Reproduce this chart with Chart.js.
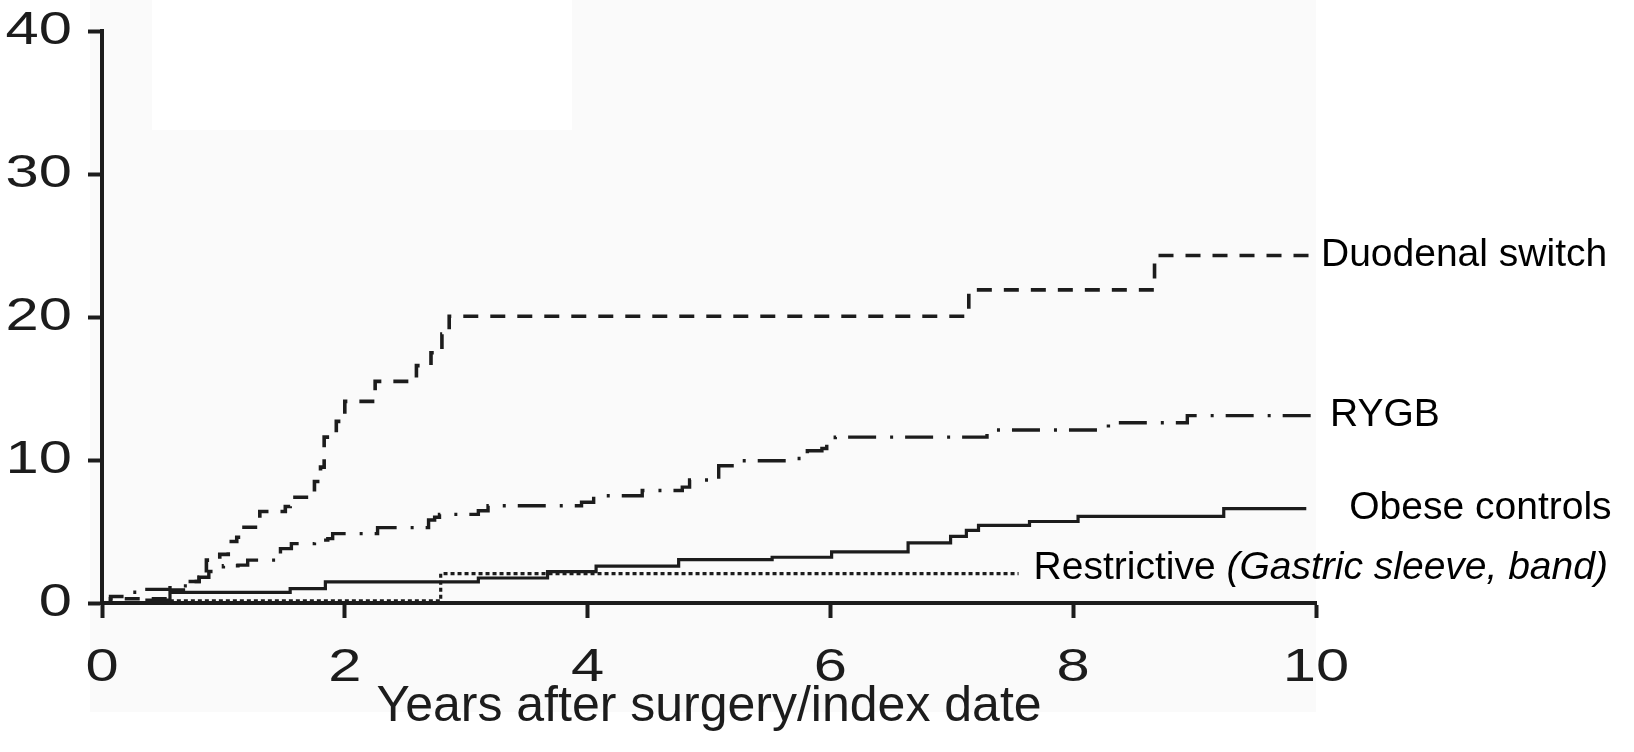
<!DOCTYPE html>
<html>
<head>
<meta charset="utf-8">
<title>Cumulative incidence after bariatric surgery</title>
<script src="https://cdn.jsdelivr.net/npm/chart.js@4.4.1/dist/chart.umd.min.js"></script>
<style>
    html, body {
        margin: 0;
        padding: 0;
        background: #ffffff;
    }
    #wrap {
        width: 1634px;
        height: 752px;
        position: relative;
    }
</style>
</head>
<body>
<div id="wrap"><canvas id="kmChart"></canvas></div>
<script>
// Years after surgery / index date, and cumulative incidence (%) at each step
const dsYears = [0, 0.07, 0.55, 0.70, 0.80, 0.86, 0.97, 1.04, 1.11, 1.14, 1.30, 1.51, 1.55, 1.75, 1.80, 1.83, 1.93, 2.00, 2.25, 2.59, 2.71, 2.80, 2.86, 7.14, 8.67, 10];
const dsValues = [0, 0.3, 0.9, 1.5, 1.8, 3.0, 3.4, 4.3, 4.6, 5.3, 6.4, 6.75, 7.4, 8.5, 9.5, 11.6, 12.7, 14.1, 15.5, 16.6, 17.5, 18.8, 20.05, 21.9, 24.3, 24.3];

const rygbYears = [0, 0.07, 0.25, 0.37, 0.56, 0.74, 0.80, 0.88, 1.00, 1.12, 1.20, 1.47, 1.56, 1.75, 1.86, 1.90, 2.27, 2.69, 2.74, 2.78, 3.10, 3.18, 3.95, 4.05, 4.45, 4.78, 4.84, 5.08, 5.19, 5.66, 5.81, 5.93, 5.97, 6.04, 7.29, 8.29, 8.94, 10];
const rygbValues = [0, 0.45, 0.75, 0.95, 1.2, 1.5, 1.8, 2.2, 2.6, 2.65, 3.0, 3.8, 4.15, 4.4, 4.5, 4.85, 5.27, 5.8, 6.0, 6.2, 6.45, 6.8, 7.05, 7.5, 7.87, 8.1, 8.6, 9.6, 9.95, 10.1, 10.65, 10.8, 11.1, 11.6, 12.1, 12.6, 13.1, 13.1];

const obeseYears = [0, 0.37, 0.56, 1.55, 1.84, 3.10, 3.67, 4.07, 4.75, 5.52, 6.01, 6.64, 6.99, 7.12, 7.22, 7.64, 8.04, 9.24, 9.92];
const obeseValues = [0, 0.2, 0.75, 1.0, 1.48, 1.75, 2.2, 2.58, 3.04, 3.2, 3.57, 4.2, 4.66, 5.08, 5.43, 5.7, 6.06, 6.6, 6.6];

const restrictYears = [0, 0.56, 2.79, 7.55];
const restrictValues = [0, 0.15, 2.06, 2.06];

const xTicks = [0, 2, 4, 6, 8, 10];
const yTicks = [0, 10, 20, 30, 40];
const xTitle = 'Years after surgery/index date';

// Label parts for each curve: [text, italic]
const seriesLabels = [
    [['Duodenal switch', false]],
    [['RYGB', false]],
    [['Obese controls', false]],
    [['Restrictive ', false], ['(Gastric sleeve, band)', true]]
];

const INK = '#1c1c1c';
const FONT = "'Liberation Sans', Arial, Helvetica, sans-serif";

function toPoints(xs, ys) {
    return xs.map((x, i) => ({ x: x, y: ys[i] }));
}

// faint grey page tint behind the plot, like the scanned figure
const backdrop = {
    id: 'backdrop',
    beforeDraw(chart) {
        const { ctx, chartArea } = chart;
        ctx.save();
        ctx.fillStyle = '#fafafa';
        ctx.fillRect(chartArea.left - 12, 0, chartArea.right - chartArea.left + 12, chart.height - 40);
        ctx.fillStyle = '#ffffff';
        ctx.fillRect(152, 0, 420, 130);
        ctx.restore();
    }
};

// the figure's tick numbers are wide, so they are drawn stretched at the scale positions
const wideTicks = {
    id: 'wideTicks',
    afterDraw(chart) {
        const { ctx } = chart;
        const xs = chart.scales.x;
        const ys = chart.scales.y;
        ctx.save();
        ctx.font = '47px ' + FONT;
        ctx.fillStyle = INK;
        ctx.textBaseline = 'middle';
        xTicks.forEach(v => {
            ctx.save();
            ctx.translate(xs.getPixelForValue(v), xs.top + 65);
            ctx.scale(1.27, 1);
            ctx.textAlign = 'center';
            ctx.fillText(String(v), 0, 0);
            ctx.restore();
        });
        yTicks.forEach(v => {
            ctx.save();
            ctx.translate(ys.right - 30, ys.getPixelForValue(v));
            ctx.scale(1.27, 1);
            ctx.textAlign = 'right';
            ctx.fillText(String(v), 0, 0);
            ctx.restore();
        });
        ctx.restore();
    }
};

// curve names written at the end of each curve
const endLabels = {
    id: 'endLabels',
    afterDatasetsDraw(chart) {
        const ctx = chart.ctx;
        ctx.save();
        ctx.fillStyle = '#000';
        ctx.textBaseline = 'middle';
        ctx.textAlign = 'left';
        chart.data.datasets.forEach((ds, i) => {
            const pts = chart.getDatasetMeta(i).data;
            const last = pts[pts.length - 1];
            let x = last.x + ds.labelDx;
            const y = last.y + ds.labelDy;
            seriesLabels[i].forEach(([text, italic]) => {
                ctx.font = (italic ? 'italic ' : '') + '39px ' + FONT;
                ctx.fillText(text, x, y);
                x += ctx.measureText(text).width;
            });
        });
        ctx.restore();
    }
};

Chart.defaults.font.family = FONT;
Chart.defaults.color = INK;

const ctx = document.getElementById('kmChart').getContext('2d');
const kmChart = new Chart(ctx, {
    type: 'line',
    data: {
        datasets: [
            {
                label: 'Duodenal switch',
                data: toPoints(dsYears, dsValues),
                stepped: true,
                borderColor: INK,
                borderWidth: 3.6,
                borderDash: [15, 12],
                labelDx: 5,
                labelDy: 0
            },
            {
                label: 'RYGB',
                data: toPoints(rygbYears, rygbValues),
                stepped: true,
                borderColor: INK,
                borderWidth: 3.4,
                borderDash: [28, 14, 3, 12],
                labelDx: 14,
                labelDy: 0
            },
            {
                label: 'Obese controls',
                data: toPoints(obeseYears, obeseValues),
                stepped: true,
                borderColor: INK,
                borderWidth: 3.2,
                labelDx: 43,
                labelDy: 0
            },
            {
                label: 'Restrictive (Gastric sleeve, band)',
                data: toPoints(restrictYears, restrictValues),
                stepped: true,
                borderColor: INK,
                borderWidth: 3.2,
                borderDash: [4, 3],
                labelDx: 15,
                labelDy: -5
            }
        ]
    },
    options: {
        responsive: true,
        maintainAspectRatio: false,
        animation: false,
        events: [],
        layout: {
            padding: { top: 31, right: 318, left: 0, bottom: 0 }
        },
        elements: {
            point: { radius: 0 },
            line: { tension: 0, fill: false }
        },
        plugins: {
            legend: { display: false },
            tooltip: { enabled: false }
        },
        scales: {
            x: {
                type: 'linear',
                min: 0,
                max: 10,
                afterFit(scale) { scale.height = 149; },
                afterBuildTicks(scale) { scale.ticks = xTicks.map(v => ({ value: v })); },
                border: { display: true, color: INK, width: 4 },
                grid: { drawOnChartArea: false, drawTicks: true, tickLength: 15, tickWidth: 4, tickColor: INK },
                ticks: { display: false },
                title: {
                    display: true,
                    text: xTitle,
                    font: { size: 50 },
                    color: INK,
                    padding: { top: 4, bottom: 15 }
                }
            },
            y: {
                type: 'linear',
                min: 0,
                max: 40,
                afterFit(scale) { scale.width = 102; },
                afterBuildTicks(scale) { scale.ticks = yTicks.map(v => ({ value: v })); },
                border: { display: true, color: INK, width: 4 },
                grid: { drawOnChartArea: false, drawTicks: true, tickLength: 14, tickWidth: 4, tickColor: INK },
                ticks: { display: false }
            }
        }
    },
    plugins: [backdrop, wideTicks, endLabels]
});
</script>
</body>
</html>
